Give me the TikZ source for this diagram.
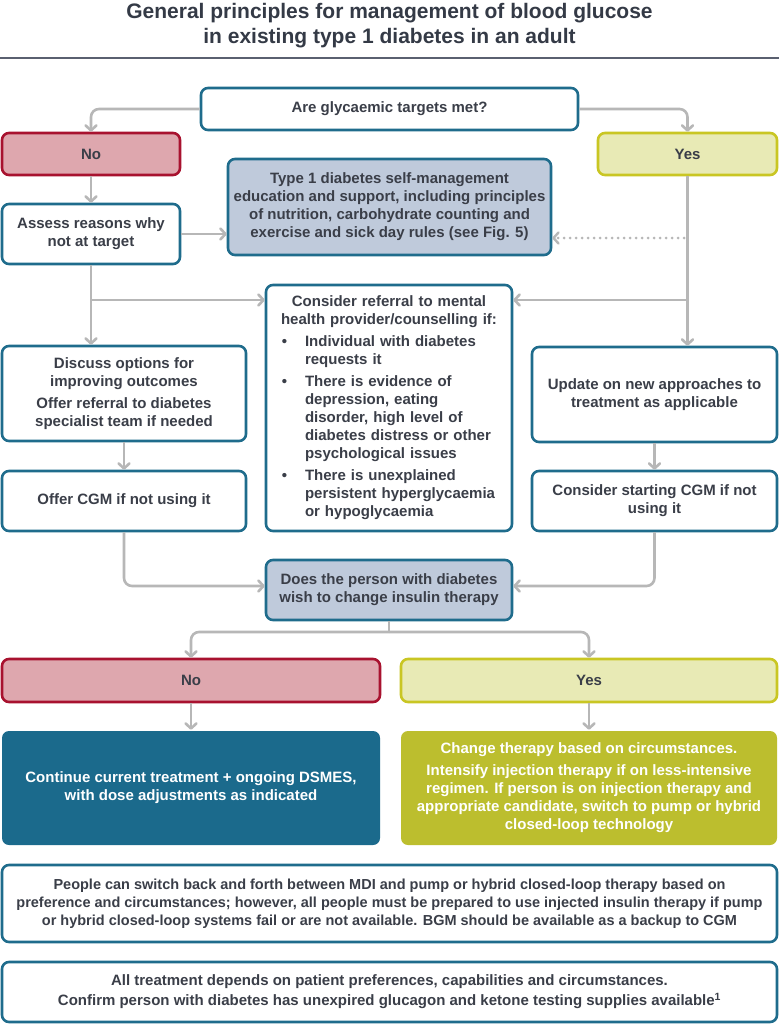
\documentclass[tikz,border=0pt]{standalone}
\usepackage{fontspec}
\setmainfont{Liberation Sans}
\usetikzlibrary{arrows.meta}
\definecolor{tealb}{RGB}{31,108,140}
\definecolor{txt}{RGB}{58,62,72}
\definecolor{titlec}{RGB}{52,58,70}
\definecolor{rulec}{RGB}{90,96,112}
\definecolor{pinkf}{RGB}{222,167,174}
\definecolor{redb}{RGB}{168,18,47}
\definecolor{yelf}{RGB}{232,234,181}
\definecolor{yelb}{RGB}{201,198,35}
\definecolor{bluef}{RGB}{191,202,219}
\definecolor{contf}{RGB}{27,106,140}
\definecolor{chgf}{RGB}{188,190,46}
\definecolor{arrg}{RGB}{183,183,183}
\tikzset{
  box/.style={draw=tealb, line width=2.6pt, rounded corners=7pt, fill=white,
    text=txt, font=\bfseries\fontsize{15}{18}\selectfont, align=center, inner sep=0pt},
  nobox/.style={box, draw=redb, fill=pinkf},
  yesbox/.style={box, draw=yelb, fill=yelf},
  bluebox/.style={box, fill=bluef},
  contbox/.style={box, draw=none, fill=contf, text=white},
  chgbox/.style={box, draw=none, fill=chgf, text=white},
  arr/.style={draw=arrg, line width=2.6pt, rounded corners=8pt,
    -{Straight Barb[length=5pt,width=11pt,round]}},
  plainline/.style={draw=arrg, line width=2.6pt, rounded corners=8pt},
  dotarr/.style={draw=arrg, line width=3pt, dash pattern=on 0pt off 6pt, line cap=round,
    -{Straight Barb[length=5pt,width=11pt,round,line width=2.4pt]}},
}
\begin{document}
\begin{tikzpicture}[x=1pt,y=-1pt]
\useasboundingbox (0,0) rectangle (779,1024);
\fill[white] (0,0) rectangle (779,1024);
% title
\node[text=titlec, font=\bfseries\fontsize{21}{25}\selectfont, align=center] (title) at (389.5,26)
  {General principles for management of blood glucose\\in existing type 1 diabetes in an adult};
\coordinate (rl) at (0,58);
\coordinate (rr) at (779,58);
\draw[rulec, line width=2pt] (rl) -- (rr);
% nodes
\node[box, minimum width=377pt, minimum height=42pt] (q) at (389.5,109) {Are glycaemic targets met?};
\node[nobox, minimum width=178pt, minimum height=42pt] (no1) at (91,154) {No};
\node[yesbox, minimum width=179pt, minimum height=42pt] (yes1) at (687.5,154) {Yes};
\node[box, minimum width=178pt, minimum height=60pt] (assess) at (91,234) {Assess reasons why\\not at target};
\node[bluebox, minimum width=323pt, minimum height=96pt] (t1) at (389.5,207)
  {Type 1 diabetes self-management\\education and support, including principles\\of nutrition, carbohydrate counting and\\exercise and sick day rules (see Fig. 5)};
\node[box, minimum width=246pt, minimum height=246pt, text width=230pt, align=left] (mh) at (389,408) {%
{\centering Consider referral to mental\\health provider/counselling if:\par}%
\begin{list}{\textbullet}{\setlength\leftmargin{31pt}\setlength\labelwidth{13pt}\setlength\labelsep{18pt}%
\setlength\itemsep{4pt}\setlength\topsep{4pt}\setlength\partopsep{0pt}\setlength\parsep{0pt}}
\item Individual with diabetes\\requests it
\item There is evidence of\\depression, eating\\disorder, high level of\\diabetes distress or other\\psychological issues
\item There is unexplained\\persistent hyperglycaemia\\or hypoglycaemia
\end{list}};
\node[box, minimum width=244pt, minimum height=95pt] (disc) at (124,393.5)
  {Discuss options for\\improving outcomes\\[4pt]Offer referral to diabetes\\specialist team if needed};
\node[box, minimum width=244pt, minimum height=60pt] (offer) at (124,501) {Offer CGM if not using it};
\node[box, minimum width=245pt, minimum height=95pt] (upd) at (654.5,394.5)
  {Update on new approaches to\\treatment as applicable};
\node[box, minimum width=245pt, minimum height=60pt] (csc) at (654.5,501)
  {Consider starting CGM if not\\using it};
\node[bluebox, minimum width=246pt, minimum height=60pt] (does) at (389,590)
  {Does the person with diabetes\\wish to change insulin therapy};
\node[nobox, minimum width=378pt, minimum height=43pt] (no2) at (191,680.5) {No};
\node[yesbox, minimum width=376pt, minimum height=43pt] (yes2) at (589,680.5) {Yes};
\node[contbox, minimum width=378pt, minimum height=114pt] (cont) at (191,788)
  {Continue current treatment + ongoing DSMES,\\with dose adjustments as indicated};
\node[chgbox, minimum width=376pt, minimum height=114pt] (chg) at (589,788)
  {Change therapy based on circumstances.\\[4pt]Intensify injection therapy if on less-intensive\\regimen. If person is on injection therapy and\\appropriate candidate, switch to pump or hybrid\\closed-loop technology};
\node[box, minimum width=775pt, minimum height=77pt, font=\bfseries\fontsize{14.5}{18}\selectfont] (ppl) at (389.5,903.5)
  {People can switch back and forth between MDI and pump or hybrid closed-loop therapy based on\\preference and circumstances; however, all people must be prepared to use injected insulin therapy if pump\\or hybrid closed-loop systems fail or are not available. BGM should be available as a backup to CGM};
\node[box, minimum width=775pt, minimum height=60pt] (all) at (389.5,992)
  {All treatment depends on patient preferences, capabilities and circumstances.\\[2pt]Confirm person with diabetes has unexpired glucagon and ketone testing supplies available\textsuperscript{1}};
% connectors
\draw[arr] (q.west) -| (no1.north);
\draw[arr] (q.east) -| (yes1.north);
\draw[arr] (no1.south) -- (assess.north);
\draw[arr] (assess.east) -- (assess.east -| t1.west);
\draw[arr] (assess.south) -- (assess.south |- disc.north);
\coordinate (jl) at (91,300);
\coordinate (jr) at (687.5,300);
\draw[arr] (jl) -- (jl -| mh.west);
\draw[arr] (yes1.south) -- (yes1.south |- upd.north);
\draw[arr] (jr) -- (jr -| mh.east);
\coordinate (dl) at (684,238);
\draw[dotarr] (dl) -- (dl -| t1.east);
\draw[arr] (disc.south) -- (offer.north);
\draw[arr] (upd.south) -- (csc.north);
\draw[arr] (offer.south) |- ([yshift=4pt]does.west);
\draw[arr] (csc.south) |- ([yshift=4pt]does.east);
\coordinate (sp) at (389,632);
\draw[plainline] (does.south) -- (sp);
\draw[arr] (sp) -| (no2.north);
\draw[arr] (sp) -| (yes2.north);
\draw[arr] (no2.south) -- (cont.north);
\draw[arr] (yes2.south) -- (chg.north);
\end{tikzpicture}
\end{document}
